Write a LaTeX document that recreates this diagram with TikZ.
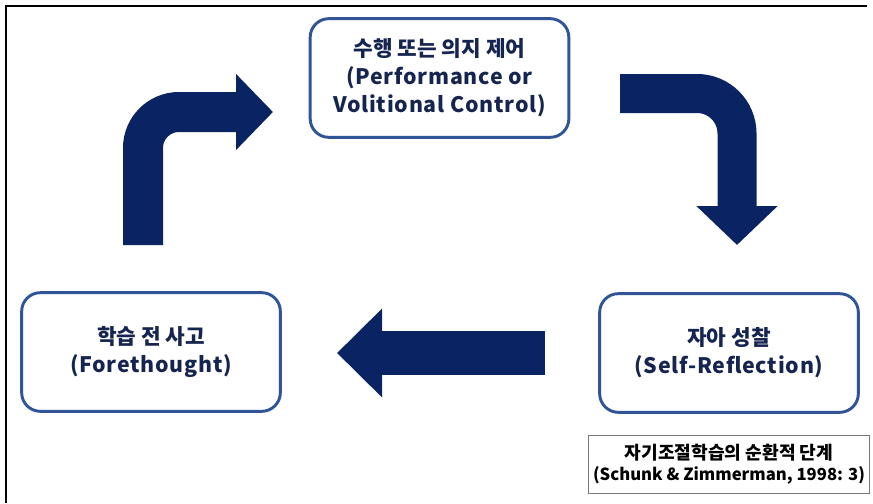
\documentclass[tikz,border=0pt]{standalone}
\usepackage{fontspec}
\setmainfont{Noto Sans CJK KR}
\usepackage{tikz}
\usetikzlibrary{arrows.meta}
\definecolor{srnavy}{RGB}{10,36,99}
\definecolor{srblue}{RGB}{47,85,151}
\definecolor{srtext}{RGB}{22,36,80}
\definecolor{srgray}{RGB}{120,120,120}
\newcommand{\enline}[1]{{\addfontfeature{LetterSpace=3.5}#1}}

\begin{document}
\begin{tikzpicture}[
  x=0.75pt,y=-0.75pt,
  font=\bfseries\fontsize{16}{21}\selectfont,
  phase/.style={draw=srblue,line width=2.2pt,rounded corners=14pt,minimum width=194pt,minimum height=89pt,align=center,text=srtext,fill=white},
  caption/.style={draw=srgray,line width=0.6pt,minimum width=211pt,minimum height=43pt,align=center,font=\bfseries\fontsize{12.5}{16}\selectfont},
  bendarrow/.style={srnavy,line width=30pt,rounded corners=27pt}
]
  \useasboundingbox (0,0) rectangle (873,503);
  \draw[line width=1.6pt] (6,503) -- (6,6) -- (867,6);

  \node[phase] (perf) at (439.5,78) {수행 또는 의지 제어\\\enline{(Performance or}\\\enline{Volitional Control)}};
  \node[phase] (fore) at (151,352) {학습 전 사고\\\enline{(Forethought)}};
  \node[phase] (refl) at (729,353) {자아 성찰\\\enline{(Self-Reflection)}};
  \node[caption] (src) at (729,464.5) {{\fontsize{13.6}{16}\selectfont 자기조절학습의 순환적 단계}\\(Schunk \& Zimmerman, 1998: 3)};

  \coordinate (up0) at (143,245);
  \coordinate (up1) at (143,112);
  \coordinate (up2) at (273,112);
  \draw[bendarrow,-{Triangle[length=27.75pt,width=55.5pt]}] (up0) -- (up1) -- (up2);

  \coordinate (dn0) at (620,93.5);
  \coordinate (dn1) at (737,93.5);
  \coordinate (dn2) at (737,245);
  \draw[bendarrow,line width=29.25pt,rounded corners=30pt,-{Triangle[length=29.25pt,width=59.25pt]}] (dn0) -- (dn1) -- (dn2);

  \coordinate (bk0) at (545,353);
  \coordinate (bk1) at (337,353);
  \draw[srnavy,line width=33pt,-{Triangle[length=33.75pt,width=64.5pt]}] (bk0) -- (bk1);
\end{tikzpicture}
\end{document}
